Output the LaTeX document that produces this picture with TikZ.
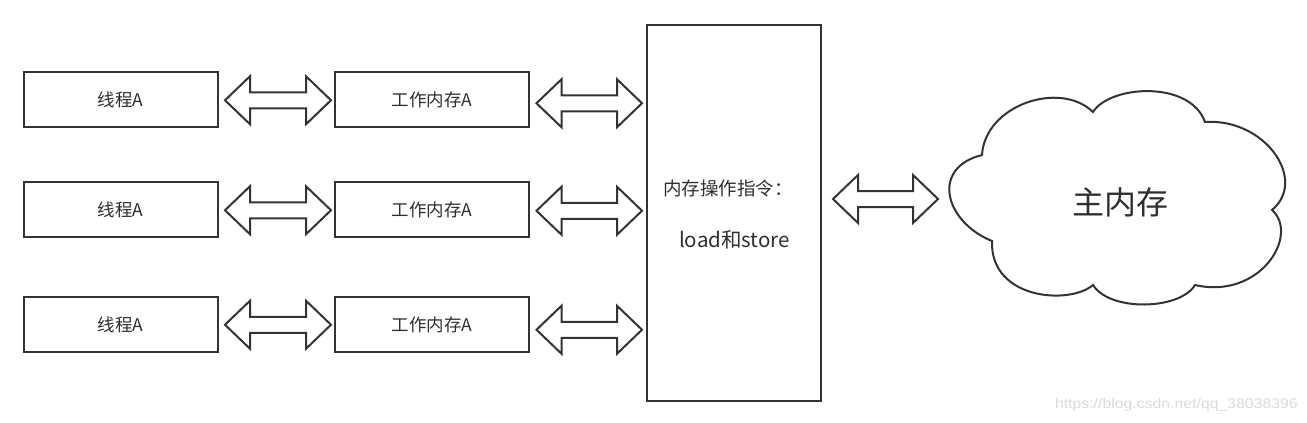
\documentclass[tikz,border=0pt]{standalone}
\usepackage{fontspec}
\setmainfont{Noto Sans CJK SC}
\newfontfamily\wmfont{Liberation Sans}
\usetikzlibrary{calc}
\definecolor{linegray}{HTML}{333333}
\definecolor{textgray}{HTML}{2E2E2E}
\definecolor{wmgray}{HTML}{DADADA}
\tikzset{
  box/.style={draw=linegray, line width=2pt, minimum width=194pt, minimum height=55pt,
    inner sep=0pt, text=textgray, font=\fontsize{17.5}{20}\selectfont},
  bigbox/.style={draw=linegray, line width=2pt, minimum width=174pt, minimum height=376pt, inner sep=0pt},
  boxtext/.style={inner sep=0pt, text=textgray, font=\fontsize{18.5}{22}\selectfont},
  cloudtext/.style={inner sep=0pt, text=textgray, font=\fontsize{32}{36}\selectfont},
  harrow/.style={draw=linegray, line width=2pt, line join=miter, fill=white},
  cloudline/.style={draw=linegray, line width=2pt, line join=miter},
  wmark/.style={inner sep=0pt, text=wmgray, font=\wmfont\fontsize{14}{16}\selectfont}
}
% hollow double arrow between two tip coordinates (y taken from the first)
\newcommand{\hollowarrow}[2]{%
  \path let \p1=(#1), \p2=(#2) in [harrow]
    (\x1,\y1) -- (\x1+25pt,\y1+24pt) -- (\x1+25pt,\y1+8pt) -- (\x2-25pt,\y1+8pt)
    -- (\x2-25pt,\y1+24pt) -- (\x2,\y1) -- (\x2-25pt,\y1-24pt) -- (\x2-25pt,\y1-8pt)
    -- (\x1+25pt,\y1-8pt) -- (\x1+25pt,\y1-24pt) -- cycle;}
\begin{document}
\begin{tikzpicture}[x=1pt,y=-1pt]
\useasboundingbox (0,0) rectangle (1307,423);
% thread boxes
\node[box] (t1) at (120.5,99.75) {线程A};
\node[box] (t2) at (120.5,209.75) {线程A};
\node[box] (t3) at (120.5,324.75) {线程A};
% working memory boxes
\node[box] (w1) at (432,99.75) {工作内存A};
\node[box] (w2) at (432,209.75) {工作内存A};
\node[box] (w3) at (432,324.75) {工作内存A};
% instruction box
\node[bigbox] (big) at (734,213) {};
\node[boxtext] (instr) at (728,188) {内存操作指令：};
\node[boxtext, font=\fontsize{20.5}{24}\selectfont] (ls) at (734.5,240) {load和store};
% cloud (main memory)
\draw[cloudline] (982,155) .. controls (985,105) and (1060,80) .. (1093,112)
  .. controls (1110,85) and (1190,80) .. (1205,122)
  .. controls (1265,118) and (1308,180) .. (1272,210)
  .. controls (1300,235) and (1260,300) .. (1195,285)
  .. controls (1180,310) and (1110,312) .. (1093,285)
  .. controls (1070,305) and (990,300) .. (992,241)
  .. controls (945,222) and (930,168) .. cycle;
\coordinate (cloudwest) at (950,199);
\node[cloudtext] (mem) at (1120,202) {主内存};
% arrow end points
\coordinate (a1l) at ($(t1.east)+(6.5,0.5)$);
\coordinate (a1r) at ($(w1.west)+(-3,0)$);
\coordinate (a2l) at ($(t2.east)+(6.5,0.5)$);
\coordinate (a2r) at ($(w2.west)+(-3,0)$);
\coordinate (a3l) at ($(t3.east)+(6.5,0)$);
\coordinate (a3r) at ($(w3.west)+(-3,0)$);
\coordinate (b1l) at ($(w1.east)+(6.5,3.5)$);
\coordinate (b1r) at ($(big.west)+(-4,0)$);
\coordinate (b2l) at ($(w2.east)+(6.5,1)$);
\coordinate (b2r) at ($(big.west)+(-4,0)$);
\coordinate (b3l) at ($(w3.east)+(6.5,5)$);
\coordinate (b3r) at ($(big.west)+(-4,0)$);
\coordinate (cl) at ($(big.east)+(11,-14)$);
\coordinate (cr) at ($(cloudwest)+(-12,0)$);
\hollowarrow{a1l}{a1r}
\hollowarrow{a2l}{a2r}
\hollowarrow{a3l}{a3r}
\hollowarrow{b1l}{b1r}
\hollowarrow{b2l}{b2r}
\hollowarrow{b3l}{b3r}
\hollowarrow{cl}{cr}
% watermark
\node[wmark, anchor=east, xscale=1.13] (wm) at (1298,405) {https://blog.csdn.net/qq\_38038396};
\end{tikzpicture}
\end{document}
